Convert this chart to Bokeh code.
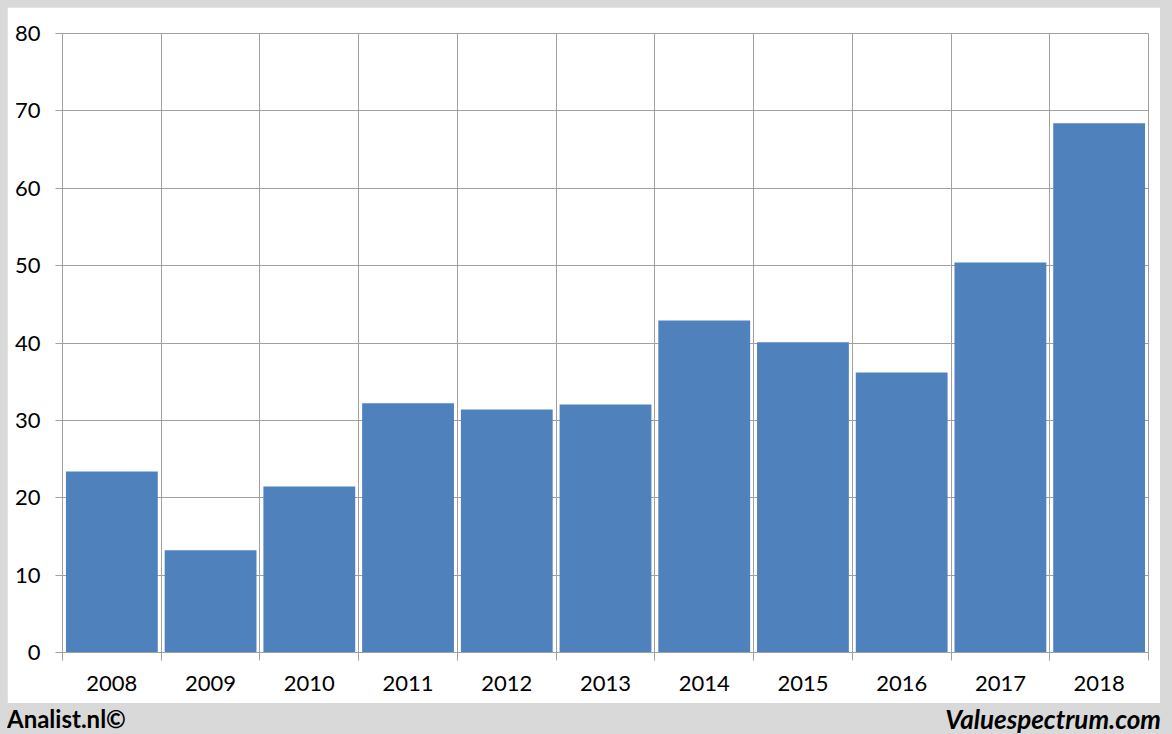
from bokeh.plotting import figure
from bokeh.models import FixedTicker, LinearAxis, Range1d, Div
from bokeh.layouts import column
from bokeh.embed import file_html
from bokeh.resources import INLINE

years = [2008, 2009, 2010, 2011, 2012, 2013, 2014, 2015, 2016, 2017, 2018]
values = [23.4, 13.2, 21.45, 32.2, 31.4, 32.05, 42.9, 40.1, 36.2, 50.4, 68.4]
y_ticks = [0, 10, 20, 30, 40, 50, 60, 70, 80]

boundaries = [y - 0.5 for y in years] + [years[-1] + 0.5]
GRID = "#a0a0a0"
FONT = "Lato"

p = figure(width=1153, height=696, output_backend="svg", toolbar_location=None,
           x_range=Range1d(years[0] - 0.5, years[-1] + 0.5), y_range=Range1d(0, 80),
           min_border_left=55, min_border_right=12, min_border_top=26, min_border_bottom=51,
           x_axis_location=None)
p.border_fill_color = "white"
p.background_fill_color = "white"
p.outline_line_color = GRID

p.vbar(x=years, top=values, width=0.93, bottom=0, fill_color="#4F81BD", line_color=None)

# x axis: labels at years, tick marks at category boundaries
ax = LinearAxis(ticker=FixedTicker(ticks=years, minor_ticks=boundaries))
ax.major_label_text_font = FONT
ax.major_label_text_font_size = "22px"
ax.major_label_text_color = "black"
ax.major_label_standoff = 15
ax.major_tick_in = 0
ax.major_tick_out = 0
ax.minor_tick_in = 0
ax.minor_tick_out = 8
ax.minor_tick_line_color = GRID
ax.axis_line_color = GRID
p.add_layout(ax, "below")

p.yaxis.ticker = FixedTicker(ticks=y_ticks, minor_ticks=[])
p.yaxis.major_label_text_font = FONT
p.yaxis.major_label_text_font_size = "22px"
p.yaxis.major_label_text_color = "black"
p.yaxis.major_label_standoff = 15
p.yaxis.major_tick_in = 0
p.yaxis.major_tick_out = 7
p.yaxis.major_tick_line_color = GRID
p.yaxis.axis_line_color = GRID
p.yaxis.minor_tick_line_color = None

p.ygrid.ticker = FixedTicker(ticks=y_ticks)
p.ygrid.grid_line_color = GRID
p.xgrid.ticker = FixedTicker(ticks=boundaries)
p.xgrid.grid_line_color = GRID

footer = Div(
    text=('<div style="display:flex;justify-content:space-between;align-items:center;'
          'width:1153px;height:23px;font-family:Lato;font-weight:bold;color:black;">'
          '<span style="font-size:24px;margin-left:-5px;">Analist.nl©</span>'
          '<span style="font-size:26px;font-style:italic;margin-right:4px;">Valuespectrum.com</span></div>'),
    width=1153, height=23,
    styles={"background-color": "#d9d9d9"})

layout = column(p, footer, spacing=0)

html = file_html(layout, INLINE)
css = ("<style>html{background:#d9d9d9 !important;}"
       "body{background:#d9d9d9 !important;margin:7px !important;padding:0 !important;}</style>")
html = html.replace("</head>", css + "</head>", 1)
open("out.html", "w").write(html)
